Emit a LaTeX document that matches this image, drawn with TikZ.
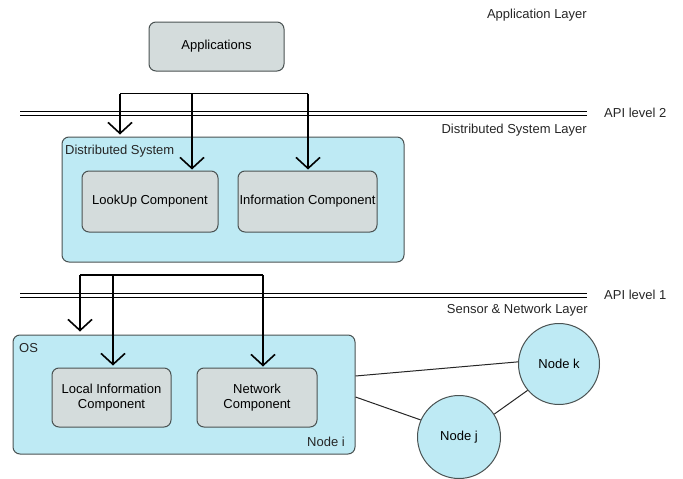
\documentclass[tikz,border=0pt]{standalone}
\usepackage{fontspec}
\setmainfont{Liberation Sans}
\usetikzlibrary{arrows.meta,shapes.geometric}
\definecolor{cyanfill}{HTML}{BEEAF4}
\definecolor{grayfill}{HTML}{D4DCDC}
\definecolor{bordercol}{HTML}{4A5252}
\tikzset{
  base/.style={font=\fontsize{13}{15}\selectfont, inner sep=0pt},
  graybox/.style={base, draw=bordercol, line width=1pt, fill=grayfill, rounded corners=7pt, align=center},
  cyanbox/.style={draw=bordercol, line width=1pt, fill=cyanfill, rounded corners=7pt, inner sep=0pt},
  circ/.style={base, circle, draw=bordercol, line width=1pt, fill=cyanfill},
  lbl/.style={base, text=black!85},
  apiline/.style={line width=1.9pt, black},
  brk/.style={line width=1.8pt, black},
  arr/.style={line width=1.8pt, black, -{Straight Barb[length=11pt,width=24pt,line width=1.6pt]}},
  link/.style={line width=1pt, black!85}
}
\begin{document}
\begin{tikzpicture}[x=1pt,y=-1pt]
\useasboundingbox (0,0) rectangle (683,479);
% layer labels
\node[lbl, anchor=east] (lapp) at (587,15) {Application Layer};
\node[lbl, anchor=west] (lapi2) at (604,113) {API level 2};
\node[lbl, anchor=east] (lds) at (587,130) {Distributed System Layer};
\node[lbl, anchor=west] (lapi1) at (604,295) {API level 1};
\node[lbl, anchor=east] (lsn) at (588,310) {Sensor \& Network Layer};
% API lines
\coordinate (a2l) at (20,111.5); \coordinate (a2r) at (587,111.5);
\coordinate (a2l2) at (20,115.5); \coordinate (a2r2) at (587,115.5);
\draw[apiline] (a2l) -- (a2r);
\draw[apiline] (a2l2) -- (a2r2);
\coordinate (a1l) at (20,293.5); \coordinate (a1r) at (587,293.5);
\coordinate (a1l2) at (20,297.5); \coordinate (a1r2) at (587,297.5);
\draw[apiline] (a1l) -- (a1r);
\draw[apiline] (a1l2) -- (a1r2);
% boxes
\node[graybox, minimum width=135pt, minimum height=49pt] (app) at (216.5,46.5) {Applications};
\node[cyanbox, minimum width=342pt, minimum height=125pt] (ds) at (233,199.5) {};
\node[lbl, anchor=west] (dslbl) at (65,151) {Distributed System};
\node[graybox, minimum width=136pt, minimum height=61pt] (lookup) at (150,201.5) {LookUp Component};
\node[graybox, minimum width=139pt, minimum height=61pt] (info) at (307.5,201.5) {Information Component};
\node[cyanbox, minimum width=342pt, minimum height=119pt] (os) at (184,394.5) {};
\node[lbl, anchor=west] (oslbl) at (19,348) {OS};
\node[lbl, anchor=east] (nilbl) at (345,442) {Node i};
\node[graybox, minimum width=119pt, minimum height=59pt] (local) at (111.5,397.5) {Local Information\\Component};
\node[graybox, minimum width=120pt, minimum height=59pt] (net) at (257,397.5) {Network\\Component};
\node[circ, minimum size=81pt] (nodek) at (559,364) {Node k};
\node[circ, minimum size=83pt] (nodej) at (459,437) {Node j};
% bracket 2
\coordinate (b2l) at (120,93.5); \coordinate (b2m) at (192,93.5); \coordinate (b2r) at (308,93.5);
\draw[brk] (b2l) -- (b2r);
\draw[arr] (b2l) -- ([yshift=2pt]ds.north -| b2l);
\draw[arr] (b2m) -- ([yshift=1pt]lookup.north -| b2m);
\draw[arr] (b2r) -- ([yshift=1pt]info.north -| b2r);
% bracket 1
\coordinate (b1l) at (80,275); \coordinate (b1m) at (113,275); \coordinate (b1r) at (263,275);
\draw[brk] (b1l) -- (b1r);
\draw[arr] (b1l) -- ([yshift=3pt]os.north -| b1l);
\draw[arr] (b1m) -- ([yshift=2pt]local.north -| b1m);
\draw[arr] (b1r) -- ([yshift=1pt]net.north -| b1r);
% network links
\draw[link] ([yshift=18.5pt]os.east) -- (nodek.177);
\draw[link] ([yshift=-2.5pt]os.east) -- (nodej.156);
\draw[link] (nodej.33) -- (nodek.220);
\end{tikzpicture}
\end{document}
